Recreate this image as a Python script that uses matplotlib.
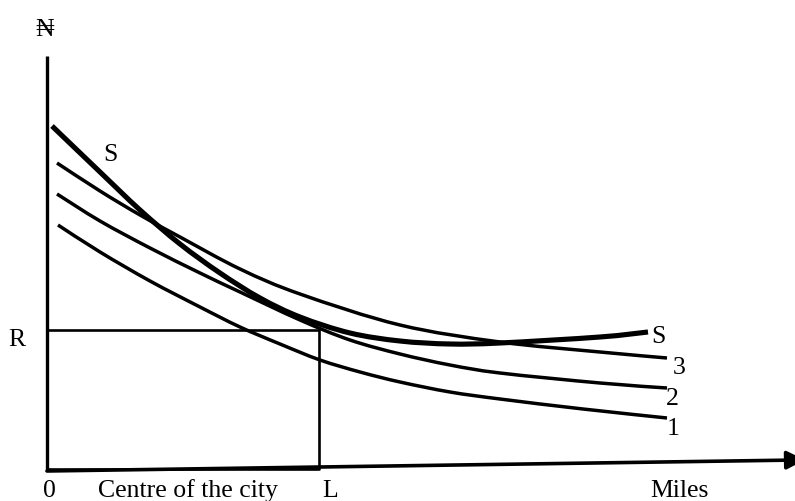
import numpy as np
import matplotlib
matplotlib.use("Agg")
import matplotlib.pyplot as plt
from matplotlib.patches import FancyArrowPatch, PathPatch
from matplotlib.path import Path

# distance from the centre (x) and rent (y)
s_x = [5, 53, 93, 133, 173, 213, 253, 303, 353, 403, 453, 553, 601]
s_y = [344, 298, 260, 226, 197, 172, 153, 137, 129, 126, 127, 133, 138]

c3_x = [10, 53, 93, 133, 193, 253, 353, 453, 553, 620]
c3_y = [307, 279, 255, 233, 201, 176, 145, 128, 118, 112]

c2_x = [10, 53, 103, 153, 193, 253, 303, 353, 403, 453, 553, 620]
c2_y = [276, 249, 222, 197, 178, 150, 130, 116, 105, 97, 87, 82]

c1_x = [11, 53, 103, 153, 193, 233, 273, 313, 353, 403, 453, 536, 620]
c1_y = [245, 218, 189, 163, 143, 126, 110, 98, 88, 78, 71, 61, 52]

rent_R = 140
dist_L = 272

plt.rcParams['font.family'] = ['Liberation Serif', 'DejaVu Serif']
FS = 18.5


def smooth_path(xs, ys):
    # catmull-rom through the points, written as bezier segments
    p = np.column_stack([xs, ys]).astype(float)
    p = np.vstack([p[0], p, p[-1]])
    verts = [p[1]]
    codes = [Path.MOVETO]
    for i in range(1, len(p) - 2):
        c1 = p[i] + (p[i + 1] - p[i - 1]) / 6
        c2 = p[i + 1] - (p[i + 2] - p[i]) / 6
        verts += [c1, c2, p[i + 1]]
        codes += [Path.CURVE4] * 3
    return Path(verts, codes)


def draw_curve(ax, xs, ys, lw):
    ax.add_patch(PathPatch(smooth_path(xs, ys), fill=False, edgecolor='black',
                           lw=lw, capstyle='butt', joinstyle='round'))


fig = plt.figure(figsize=(7.95, 5.02), dpi=100)
ax = fig.add_axes([0, 0, 1, 1])
ax.set_xlim(-47, 748)
ax.set_ylim(-31, 471)
ax.set_axis_off()

# axes
ax.plot([0, 0], [-1, 414], color='black', lw=2.4, solid_capstyle='butt')
arr = FancyArrowPatch((0, -1), (758, 10.1),
                      arrowstyle='-|>,head_length=0.5,head_width=0.25',
                      mutation_scale=22, lw=2.6, color='black',
                      shrinkA=0, shrinkB=0)
ax.add_patch(arr)

# rectangle 0-R-L
ax.plot([0, dist_L, dist_L, 0], [rent_R, rent_R, 1, 1], color='black', lw=1.9)

# curves
draw_curve(ax, s_x, s_y, 3.7)
for xs, ys in [(c3_x, c3_y), (c2_x, c2_y), (c1_x, c1_y)]:
    draw_curve(ax, xs, ys, 2.5)

# labels
ax.text(-2, 441, '\u20a6', fontsize=FS, ha='center', va='center')
ax.text(-30, 131, 'R', fontsize=FS, ha='center', va='center')
ax.text(2, -20, '0', fontsize=FS, ha='center', va='center')
ax.text(141, -20, 'Centre of the city', fontsize=FS, ha='center', va='center')
ax.text(283, -20, 'L', fontsize=FS, ha='center', va='center')
ax.text(632, -20, 'Miles', fontsize=FS, ha='center', va='center')
ax.text(63, 316, 'S', fontsize=FS, ha='center', va='center')
ax.text(611, 134, 'S', fontsize=FS, ha='center', va='center')
ax.text(632, 103, '3', fontsize=FS, ha='center', va='center')
ax.text(625, 72, '2', fontsize=FS, ha='center', va='center')
ax.text(626, 42, '1', fontsize=FS, ha='center', va='center')

fig.savefig('out.png', dpi=100)
